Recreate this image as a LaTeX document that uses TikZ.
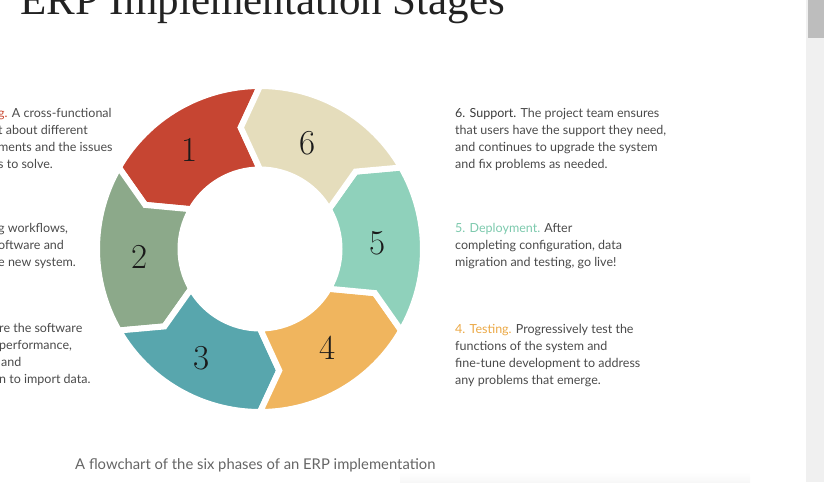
\documentclass[tikz,border=0pt]{standalone}
\usepackage{fontspec}
\newfontfamily\bodyfont{Lato}
\newfontfamily\titlefont{Liberation Serif}

\definecolor{stageone}{HTML}{C64532}
\definecolor{stagetwo}{HTML}{8CA98A}
\definecolor{stagethree}{HTML}{58A6AD}
\definecolor{stagefour}{HTML}{F0B55E}
\definecolor{stagefive}{HTML}{8FD1BB}
\definecolor{stagesix}{HTML}{E5DDBC}
\definecolor{headred}{HTML}{C9462F}
\definecolor{headmint}{HTML}{7CC9AD}
\definecolor{headorange}{HTML}{EBA845}
\definecolor{bodyink}{HTML}{4A4A4A}
\definecolor{numink}{HTML}{1A1A1A}
\definecolor{titleink}{HTML}{222222}
\definecolor{scrolltrack}{HTML}{F0F0F0}
\definecolor{scrollthumb}{HTML}{BDBDBD}

\begin{document}
\begin{tikzpicture}[x=1pt, y=1pt,
    % Define styles for the ring and the texts
    segment/.style={fill=#1, draw=white, line width=6pt, line join=miter},
    stagenum/.style={font=\fontsize{35}{35}\selectfont, text=numink},
    desc/.style={font=\bodyfont\fontsize{12.5}{17}\selectfont, text=bodyink,
                 align=left, anchor=north west, inner sep=0pt},
    caption/.style={font=\bodyfont\fontsize{14.8}{17}\selectfont, text=bodyink!85,
                    anchor=base west, inner sep=0pt},
    heading/.style={font=\titlefont\fontsize{43}{43}\selectfont, text=titleink,
                    anchor=base west, inner sep=0pt}
]

% Define coordinates for the ring
\newcommand{\ringx}{260}
\newcommand{\ringy}{249}
\newcommand{\outerr}{163}
\newcommand{\innerr}{79.5}
\newcommand{\midr}{123}
\newcommand{\tipshift}{9}

\useasboundingbox (0,0) rectangle (824,-482);
\clip (0,0) rectangle (824,-482);

% Title, cut off at the top
\node [heading] (title) at (20,-14) {ERP Implementation Stages};

% Ring of six arrow segments
\begin{scope}[shift={(\ringx,-\ringy)}]
\foreach \k/\col in {1/stageone, 2/stagetwo, 3/stagethree, 4/stagefour, 5/stagefive, 6/stagesix} {
    \pgfmathsetmacro{\sa}{90+60*(\k-1)}
    \pgfmathsetmacro{\ea}{\sa+60}
    \filldraw [segment=\col] (\sa:\outerr) arc [start angle=\sa, end angle=\ea, radius=\outerr]
        -- (\ea+\tipshift:\midr) -- (\ea:\innerr)
        arc [start angle=\ea, end angle=\sa, radius=\innerr]
        -- (\sa+\tipshift:\midr) -- cycle;
}
\end{scope}

% Stage numbers
\foreach \k/\x/\y in {
    1/190/150, 2/140/257, 3/202/358, 4/328/348, 5/378/243, 6/308/143
} {
    \node [stagenum] (num\k) at (\x,-\y) {\k};
}

% Descriptions on the right
\node [desc] (support) at (455,-108) {\textcolor{bodyink!80!black}{6. Support.} The project team ensures\\
    that users have the support they need,\\
    and continues to upgrade the system\\
    and fix problems as needed.};
\node [desc] (deploy) at (455,-223) {\textcolor{headmint}{5. Deployment.} After\\
    completing configuration, data\\
    migration and testing, go live!};
\node [desc] (testing) at (455,-324) {\textcolor{headorange}{4. Testing.} Progressively test the\\
    functions of the system and\\
    fine-tune development to address\\
    any problems that emerge.};

% Descriptions on the left, cut off at the edge
\node [desc] (planning) at (-2,-108) {\textcolor{headred}{g.} A cross-functional\\
    t about different\\
    ments and the issues\\
    s to solve.};
\node [desc] (design) at (-2,-223) {g workflows,\\
    oftware and\\
    e new system.};
\node [desc] (config) at (-1,-323) {re the software\\
    performance,\\
    \hspace{2pt}and\\
    n to import data.};

% Caption
\node [caption] (note) at (75,-469) {A flowchart of the six phases of an ERP implementation};
\shade [top color=white, bottom color=black!3] (400,-472) rectangle (750,-482);

% Scroll bar
\fill [scrolltrack] (806,0) rectangle (824,-482);
\fill [scrollthumb] (808,0) rectangle (824,-38);

\end{tikzpicture}
\end{document}
